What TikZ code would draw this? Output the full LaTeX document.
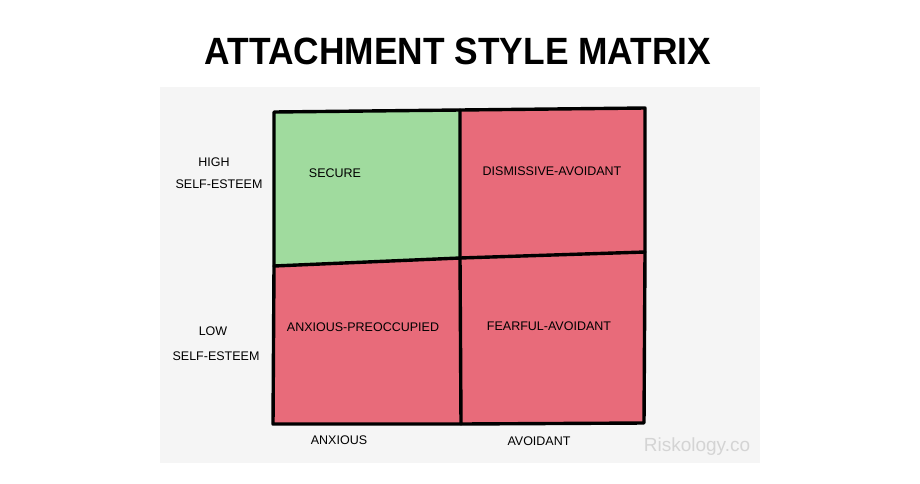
\documentclass[tikz,border=0pt]{standalone}
\usepackage{fontspec}
\setmainfont{Liberation Sans}
\definecolor{panelbg}{RGB}{245,245,245}
\definecolor{securegreen}{RGB}{160,219,158}
\definecolor{insecured}{RGB}{232,107,122}
\definecolor{wmgray}{RGB}{212,212,212}
\tikzset{
  hand/.style={font=\fontsize{12.5}{13}\selectfont, text=black, inner sep=0pt},
  gridline/.style={line width=3.4pt, line cap=round, line join=round, black}
}
\begin{document}
\begin{tikzpicture}[x=1pt,y=-1pt]
\useasboundingbox (0,0) rectangle (920,483);
\fill[white] (0,0) rectangle (920,483);
\fill[panelbg] (160,87) rectangle (760,463);
% title
\node[font=\bfseries\fontsize{38}{40}\selectfont, inner sep=0pt] (title) at (458,51) {\scalebox{0.93}[1]{ATTACHMENT STYLE MATRIX}};
% corners
\coordinate (tl) at (274,112);
\coordinate (tm) at (460,110);
\coordinate (tr) at (645,108);
\coordinate (ml) at (274,266);
\coordinate (mm) at (460,258);
\coordinate (mr) at (645,252);
\coordinate (bl) at (273,424);
\coordinate (bm) at (461,424);
\coordinate (br) at (644,423);
% fills
\fill[securegreen] (tl) -- (tm) -- (mm) -- (ml) -- cycle;
\fill[insecured] (tm) -- (tr) -- (mr) -- (mm) -- cycle;
\fill[insecured] (ml) -- (mm) -- (bm) -- (bl) -- cycle;
\fill[insecured] (mm) -- (mr) -- (br) -- (bm) -- cycle;
% lines
\draw[gridline] (tl) -- (tm) -- (tr) -- (mr) -- (br) -- (bm) -- (bl) -- (ml) -- cycle;
\draw[gridline] (tm) -- (mm) -- (bm);
\draw[gridline] (ml) -- (mm) -- (mr);
% quadrant labels
\node[hand] (secure) at (335,173) {SECURE};
\node[hand] (dismissive) at (552,171) {DISMISSIVE-AVOIDANT};
\node[hand] (anxpre) at (363,327) {ANXIOUS-PREOCCUPIED};
\node[hand] (fearful) at (549,326) {FEARFUL-AVOIDANT};
% axis labels
\node[hand] (high) at (214,162) {HIGH};
\node[hand] (highse) at (219,184) {SELF-ESTEEM};
\node[hand] (low) at (213,331) {LOW};
\node[hand] (lowse) at (216,356) {SELF-ESTEEM};
\node[hand] (anxious) at (339,440) {ANXIOUS};
\node[hand] (avoidant) at (539,441) {AVOIDANT};
% watermark
\node[font=\fontsize{19}{20}\selectfont, text=wmgray, inner sep=0pt] (wm) at (697,447) {Riskology.co};
\end{tikzpicture}
\end{document}
